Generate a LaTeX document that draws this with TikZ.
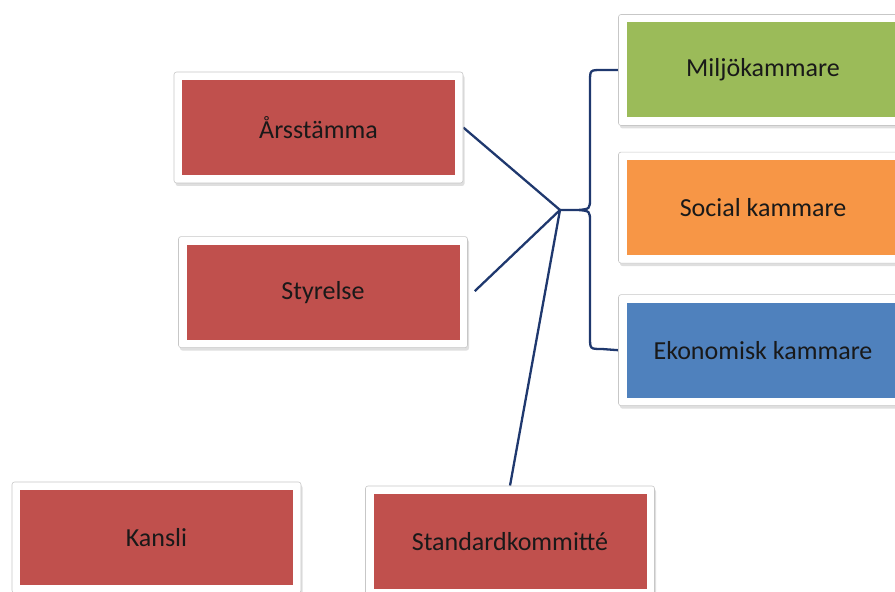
\documentclass[tikz,border=0pt]{standalone}
\usepackage{fontspec}
\setmainfont{Carlito}
\usetikzlibrary{positioning,shadows,backgrounds}

\definecolor{redbox}{HTML}{C0504D}
\definecolor{greenbox}{HTML}{9BBB59}
\definecolor{orangebox}{HTML}{F79646}
\definecolor{bluebox}{HTML}{4F81BD}
\definecolor{linkblue}{RGB}{31,56,110}

\begin{document}
\begin{tikzpicture}[
                x=1pt, y=1pt,
                box/.style={rectangle, rounded corners=2.5pt, draw=black!22, line width=0.6pt, fill=white,
                    minimum width=289pt, minimum height=111pt, inner sep=0pt,
                    font=\fontsize{26}{30}\selectfont, text=black!90,
                    drop shadow={opacity=0.25, shadow xshift=1.5pt, shadow yshift=-3pt},
                    path picture={\fill[#1, sharp corners]
                        ([shift={(8pt,8pt)}]path picture bounding box.south west) rectangle
                        ([shift={(-8pt,-8pt)}]path picture bounding box.north east);}},
                link/.style={draw=linkblue, line width=2.3pt},
                auto
            ]
            \useasboundingbox (0,0) rectangle (895,592);

            %left blocks
            \node[box=redbox]   (Ars)       at (318.5,464.5)    {Årsstämma};
            \node[box=redbox]   (Styr)      [below=53pt of Ars, xshift=4.5pt] {Styrelse};
            \node[box=redbox]   (Kansli)    at (156.5,54.5)     {Kansli};
            \node[box=redbox]   (Std)       at (510,50.5)       {Standardkommitté};

            %chambers
            \node[box=greenbox]  (Milj)     at (763,522)        {Miljökammare};
            \node[box=orangebox] (Soc)      [below=26pt of Milj] {Social kammare};
            \node[box=bluebox]   (Ekon)     [below=31pt of Soc]  {Ekonomisk kammare};

            %hub
            \coordinate (hub) at (560,382);

            %lines
            \begin{scope}[on background layer]
                \draw[link] (Ars.east) -- (hub);
                \draw[link] (Styr.east) ++(7,1) -- (hub);
                \draw[link] (hub) -- (Std.north);

                %brace
                \draw[link] (Milj.west) -- (602,522) .. controls (590,522) .. (590,510)
                    -- (590,394) .. controls (590,383) .. (578,382) -- (hub)
                    -- (578,382) .. controls (590,381) .. (590,370)
                    -- (590,255) .. controls (590,243) .. (602,243) -- (Ekon.west);
            \end{scope}

            \end{tikzpicture}
\end{document}
